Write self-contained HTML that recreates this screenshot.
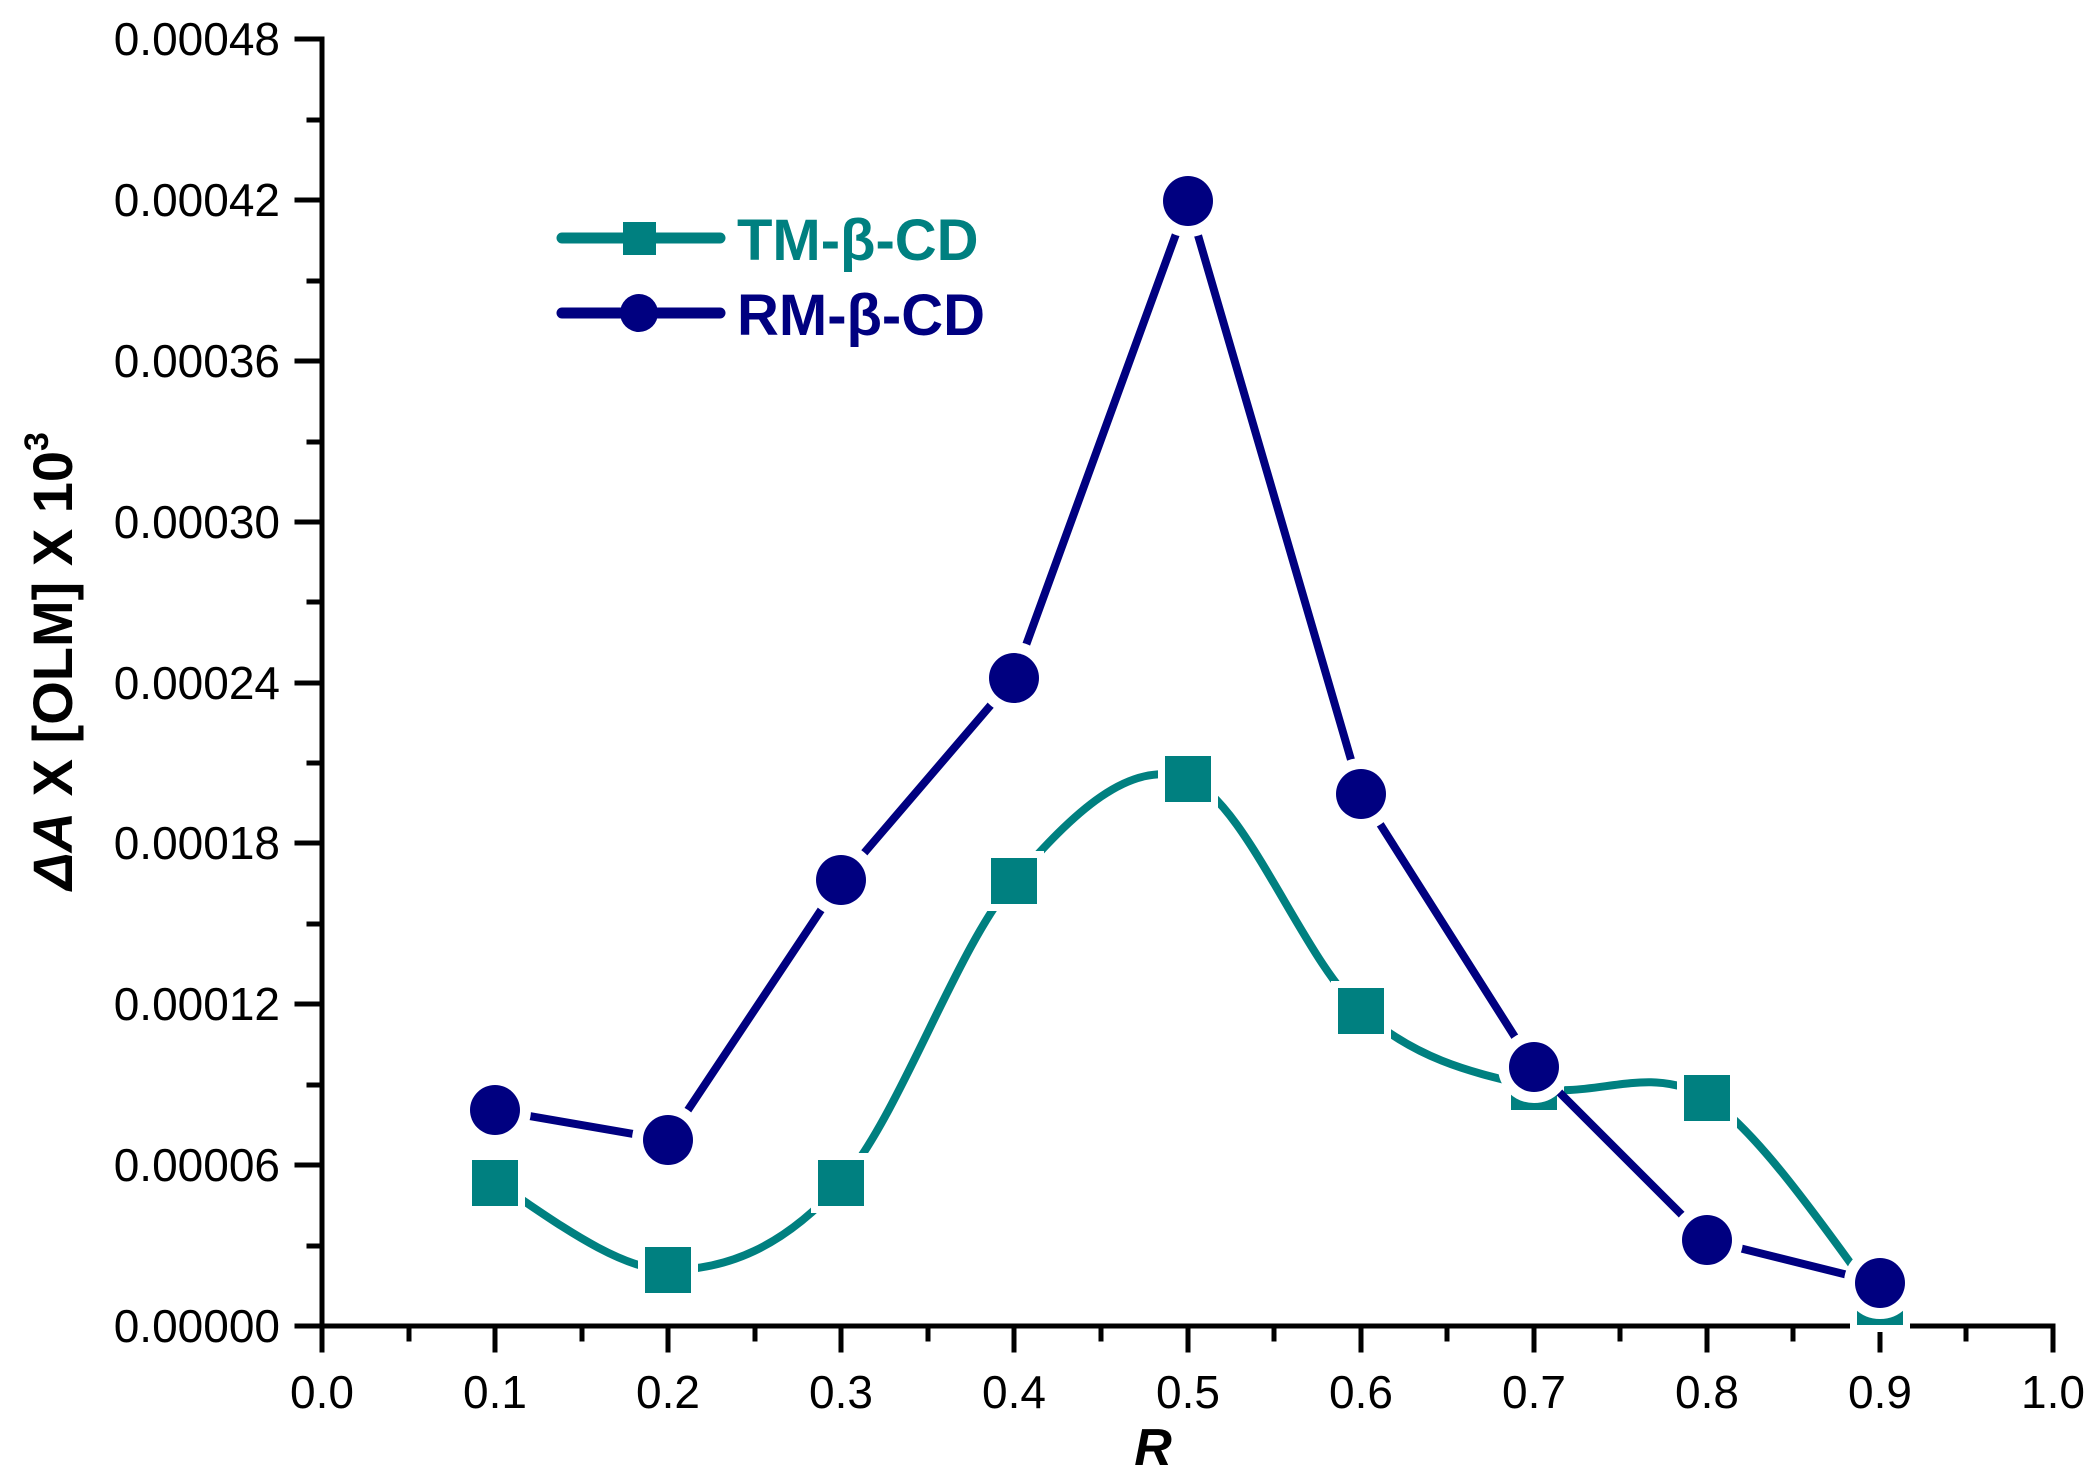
<!DOCTYPE html>
<html><head><meta charset="utf-8"><style>html,body{margin:0;padding:0;background:#fff}svg{display:block}</style></head>
<body>
<svg width="2095" height="1481" viewBox="0 0 2095 1481" xmlns="http://www.w3.org/2000/svg" font-family="Liberation Sans, sans-serif">
<rect width="2095" height="1481" fill="#fff"/>
<g stroke="#000" stroke-width="5" stroke-linecap="square" fill="none">
<path d="M322,39V1326H2053"/>
<path d="M297,39H322M297,200H322M297,361H322M297,522H322M297,683H322M297,843H322M297,1004H322M297,1165H322M297,1326H322"/>
<path d="M309,120H322M309,281H322M309,442H322M309,602H322M309,763H322M309,924H322M309,1085H322M309,1246H322"/>
<path d="M322,1326V1350M495,1326V1350M668,1326V1350M841,1326V1350M1014,1326V1350M1188,1326V1350M1361,1326V1350M1534,1326V1350M1707,1326V1350M1880,1326V1350M2053,1326V1350"/>
<path d="M409,1326V1339M582,1326V1339M755,1326V1339M928,1326V1339M1101,1326V1339M1274,1326V1339M1447,1326V1339M1620,1326V1339M1793,1326V1339M1966,1326V1339"/>
</g>
<g font-size="46" text-anchor="end" fill="#000">
<text x="280" y="55">0.00048</text>
<text x="280" y="216">0.00042</text>
<text x="280" y="377">0.00036</text>
<text x="280" y="538">0.00030</text>
<text x="280" y="699">0.00024</text>
<text x="280" y="859">0.00018</text>
<text x="280" y="1020">0.00012</text>
<text x="280" y="1181">0.00006</text>
<text x="280" y="1342">0.00000</text>
</g>
<g font-size="46" text-anchor="middle" fill="#000">
<text x="322" y="1408">0.0</text><text x="495" y="1408">0.1</text><text x="668" y="1408">0.2</text>
<text x="841" y="1408">0.3</text><text x="1014" y="1408">0.4</text><text x="1188" y="1408">0.5</text>
<text x="1361" y="1408">0.6</text><text x="1534" y="1408">0.7</text><text x="1707" y="1408">0.8</text>
<text x="1880" y="1408">0.9</text><text x="2053" y="1408">1.0</text>
</g>
<text x="1153" y="1465" font-size="52" font-weight="bold" font-style="italic" text-anchor="middle">R</text>
<text transform="translate(72,661) rotate(-90)" font-size="56" font-weight="bold" text-anchor="middle"><tspan font-style="italic">ΔA</tspan> X [OLM] X 10<tspan font-size="34" dy="-24">3</tspan></text>
<path d="M495,1183 C524,1197 610,1270 668,1270 C726,1270 783,1248 841,1183 C899,1118 956,948 1014,881 C1072,814 1130,757 1188,779 C1246,801 1303,960 1361,1011 C1419,1062 1476,1073 1534,1087 C1592,1101 1649,1062 1707,1098 C1765,1134 1851,1268 1880,1302" fill="none" stroke="#008080" stroke-width="8" stroke-linecap="round"/>
<g fill="#008080" stroke="#fff" stroke-width="14" paint-order="stroke">
<rect x="472" y="1160" width="46" height="46"/>
<rect x="645" y="1247" width="46" height="46"/>
<rect x="818" y="1160" width="46" height="46"/>
<rect x="991" y="858" width="46" height="46"/>
<rect x="1165" y="756" width="46" height="46"/>
<rect x="1338" y="988" width="46" height="46"/>
<rect x="1511" y="1064" width="46" height="46"/>
<rect x="1684" y="1075" width="46" height="46"/>
<rect x="1857" y="1279" width="46" height="46"/>
</g>
<polyline points="495,1110 668,1140 841,880 1014,678 1188,201 1361,794 1534,1067 1707,1240 1880,1283" fill="none" stroke="#000080" stroke-width="8" stroke-linecap="round" stroke-linejoin="round"/>
<g fill="#000080" stroke="#fff" stroke-width="22" paint-order="stroke">
<circle cx="495" cy="1110" r="25"/><circle cx="668" cy="1140" r="25"/><circle cx="841" cy="880" r="25"/>
<circle cx="1014" cy="678" r="25"/><circle cx="1188" cy="201" r="25"/><circle cx="1361" cy="794" r="25"/>
<circle cx="1534" cy="1067" r="25"/><circle cx="1707" cy="1240" r="25"/><circle cx="1880" cy="1283" r="25"/>
</g>
<line x1="562" y1="238" x2="720" y2="238" stroke="#008080" stroke-width="11" stroke-linecap="round"/>
<rect x="623" y="222" width="33" height="33" fill="#008080"/>
<text x="737" y="260" font-size="58" font-weight="bold" fill="#008080">TM-β-CD</text>
<line x1="562" y1="313" x2="720" y2="313" stroke="#000080" stroke-width="11" stroke-linecap="round"/>
<circle cx="639" cy="313" r="19" fill="#000080"/>
<text x="737" y="335" font-size="58" font-weight="bold" fill="#000080">RM-β-CD</text>
</svg>
</body></html>
